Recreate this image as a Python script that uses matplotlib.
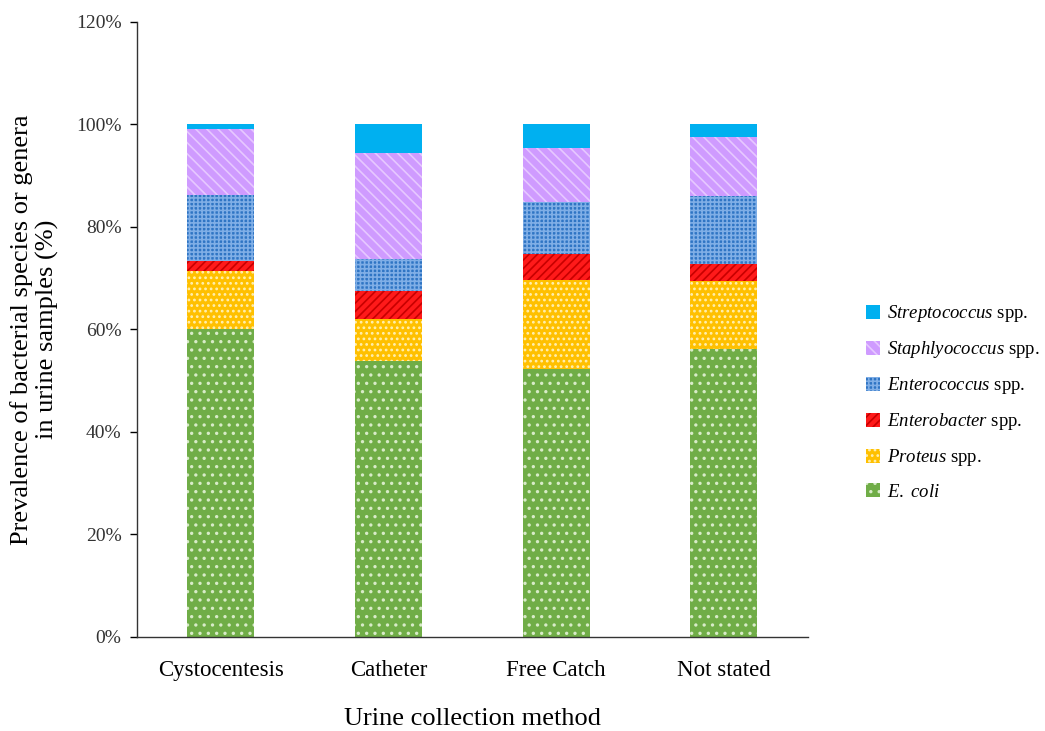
import numpy as np
import matplotlib
matplotlib.use("Agg")
import matplotlib.pyplot as plt

plt.rcParams['font.family'] = ['Liberation Serif', 'DejaVu Serif']
plt.rcParams['mathtext.fontset'] = 'custom'
plt.rcParams['mathtext.rm'] = 'Liberation Serif'
plt.rcParams['mathtext.it'] = 'Liberation Serif:italic'
plt.rcParams['hatch.linewidth'] = 1.2

methods = ['Cystocentesis', 'Catheter', 'Free Catch', 'Not stated']

# percentages per collection method (stacked bottom -> top)
e_coli = [60.0, 53.9, 52.3, 56.2]
proteus = [11.4, 8.1, 17.4, 13.3]
enterobacter = [2.0, 5.5, 5.0, 3.3]
enterococcus = [12.8, 6.3, 10.2, 13.2]
staphylococcus = [12.9, 20.6, 10.5, 11.6]
streptococcus = [0.9, 5.6, 4.6, 2.4]

series = [e_coli, proteus, enterobacter, enterococcus, staphylococcus, streptococcus]
labels = [r'$\it{E.\ coli}$', r'$\it{Proteus}$ spp.', r'$\it{Enterobacter}$ spp.',
          r'$\it{Enterococcus}$ spp.', r'$\it{Staphlyococcus}$ spp.',
          r'$\it{Streptococcus}$ spp.']
colors = ['#70AD47', '#FFC000', '#FF1A1A', '#2F75C4', '#CF9BFF', '#00B0F0']
hatch_colors = ['#D8EBC8', '#FFEFB0', '#C80000', '#7FAEE6', '#E6C8FF', '#00B0F0']
hatches = ['..', '...', '////', '++++', '\\\\\\', None]

fig, ax = plt.subplots(figsize=(10.45, 7.31), dpi=100)
fig.subplots_adjust(left=0.131, right=0.773, top=0.970, bottom=0.129)

x = np.arange(len(methods))
bottom = np.zeros(len(methods))
handles = []
for vals, lab, c, hc, h in zip(series, labels, colors, hatch_colors, hatches):
    b = ax.bar(x, vals, width=0.4, bottom=bottom, color=c, edgecolor=hc,
               linewidth=0, hatch=h, label=lab)
    handles.append(b)
    bottom += np.array(vals)

ax.set_xlim(-0.5, 3.5)
ax.set_ylim(0, 120)
ax.set_yticks(np.arange(0, 121, 20))
ax.set_yticklabels([f'{v}%' for v in range(0, 121, 20)], fontsize=14, color='#333333')
ax.set_xticks(x)
ax.set_xticklabels(methods, fontsize=16.5)
ax.tick_params(axis='x', length=0, pad=17)
ax.tick_params(axis='y', direction='out', length=5, width=1, pad=6)
for s in ['top', 'right']:
    ax.spines[s].set_visible(False)
for s in ['left', 'bottom']:
    ax.spines[s].set_color('#333333')
    ax.spines[s].set_linewidth(1)

ax.set_ylabel('Prevalence of bacterial species or genera\nin urine samples (%)',
              fontsize=19, labelpad=12)
ax.set_xlabel('Urine collection method', fontsize=19, labelpad=19)

ax.legend(handles[::-1], labels[::-1], loc='center left',
          bbox_to_anchor=(0.829, 0.45), bbox_transform=fig.transFigure,
          frameon=False, fontsize=13.5, handlelength=0.75, handleheight=0.75,
          handletextpad=0.35, labelspacing=0.8, borderpad=0, borderaxespad=0)

fig.savefig('out.png', dpi=100)
